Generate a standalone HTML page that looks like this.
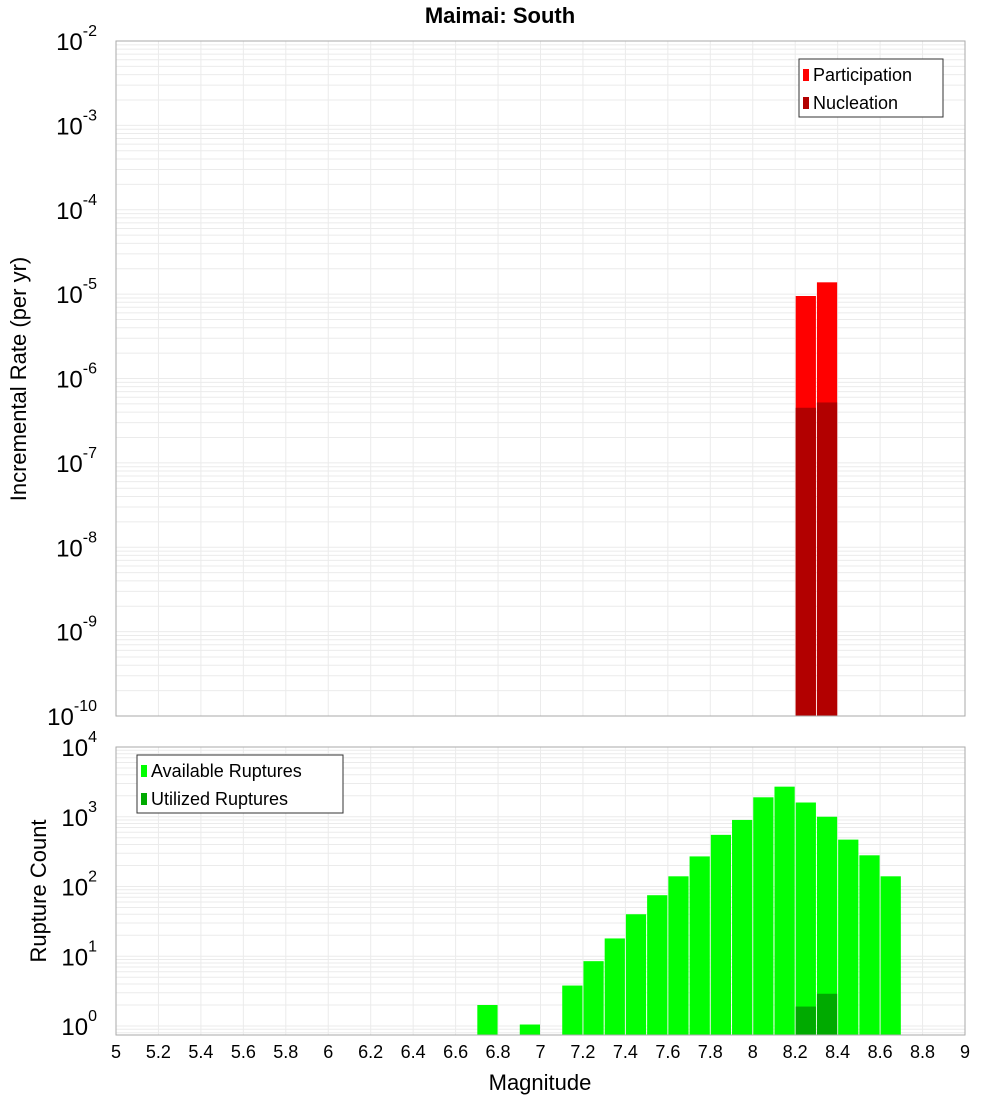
<!DOCTYPE html>
<html><head><meta charset="utf-8"><style>
body{margin:0;background:#fff}
svg{display:block;font-family:"Liberation Sans","DejaVu Sans",sans-serif}
</style></head><body>
<svg id="c" width="1000" height="1100" xmlns="http://www.w3.org/2000/svg"></svg>
<script>
const rateBins=[8.25,8.35];
const participation=[9.5e-6,1.38e-5];
const nucleation=[4.5e-7,5.2e-7];
const countBins=[6.75,6.95,7.15,7.25,7.35,7.45,7.55,7.65,7.75,7.85,7.95,8.05,8.15,8.25,8.35,8.45,8.55,8.65];
const available=[2,1.05,3.8,8.5,18,40,75,140,270,550,900,1900,2700,1600,1000,470,280,140];
const utilizedBins=[8.25,8.35];
const utilized=[1.9,2.9];
const xTicks=[5,5.2,5.4,5.6,5.8,6,6.2,6.4,6.6,6.8,7,7.2,7.4,7.6,7.8,8,8.2,8.4,8.6,8.8,9];
const topExps=[-10,-9,-8,-7,-6,-5,-4,-3,-2];
const botExps=[0,1,2,3,4];

const NS="http://www.w3.org/2000/svg",svg=document.getElementById('c');
function el(t,a,p){const e=document.createElementNS(NS,t);for(const k in a)e.setAttribute(k,a[k]);(p||svg).appendChild(e);return e;}
const L=116,R=965;
const X=v=>L+(v-5)/4*(R-L);
const T0=41,T1=716,YT=v=>T1-(Math.log10(v)+10)*(T1-T0)/8;
const B0=747,B1=1035,YB=v=>1026-Math.log10(v)*69.75;

function grid(y0,y1,Y,emin,emax){
  const g=el('g',{});
  
  for(let e=emin;e<emax;e++)for(let m=1;m<10;m++){const y=Y(m*Math.pow(10,e));if(y>=y0&&y<=y1)el('line',{x1:L,x2:R,y1:y,y2:y,stroke:'#ebebeb','stroke-width':1},g);}
  xTicks.forEach(t=>{const x=X(t);el('line',{x1:x,x2:x,y1:y0,y2:y1,stroke:'#ebebeb'},g);});
}
grid(T0,T1,YT,-10,-2);
grid(B0,B1,YB,-1,4);

function bars(bins,vals,Y,base,color,name){
  bins.forEach((b,i)=>{const x0=X(b-0.05)+0.5,x1=X(b+0.05)-0.5,y=Y(vals[i]);
    const r=el('rect',{x:x0,y:y,width:x1-x0,height:base-y,fill:color});
    });
}
bars(rateBins,participation,YT,T1,'#ff0000','participation-bar');
bars(rateBins,nucleation,YT,T1,'#b20000','nucleation-bar');
bars(countBins,available,YB,B1,'#00ff00','available-bar');
bars(utilizedBins,utilized,YB,B1,'#00aa00','utilized-bar');

el('rect',{x:L,y:T0,width:R-L,height:T1-T0,fill:'none',stroke:'#aaa'});
el('rect',{x:L,y:B0,width:R-L,height:B1-B0,fill:'none',stroke:'#aaa'});

function txt(x,y,s,a,name){const t=el('text',Object.assign({x:x,y:y},a));t.textContent=s;return t;}
function pow(x,y,e,name){const t=el('text',{x:x,y:y,'font-size':24,'text-anchor':'end'});
  t.appendChild(document.createTextNode('10'));const s=el('tspan',{dy:-14,'font-size':16},t);s.textContent=e;}
topExps.forEach(e=>pow(97,YT(Math.pow(10,e))+9,e,'y-tick-top'));
botExps.forEach(e=>pow(97,YB(Math.pow(10,e))+9,e,'y-tick-bottom'));
// fix superscript alignment: place tspan after "10" — end-anchor shifts entire text; acceptable
xTicks.forEach(t=>txt(X(t),1058,String(t),{'font-size':18,'text-anchor':'middle'},'x-tick'));

txt(500,23,'Maimai: South',{'font-size':22,'font-weight':'bold','text-anchor':'middle'},'chart-title');
txt(540,1090,'Magnitude',{'font-size':22,'text-anchor':'middle'},'x-axis-title');
txt(0,0,'Incremental Rate (per yr)',{'font-size':22,'text-anchor':'middle',transform:'translate(26,379) rotate(-90)'},'y-axis-title-top');
txt(0,0,'Rupture Count',{'font-size':22,'text-anchor':'middle',transform:'translate(46,891) rotate(-90)'},'y-axis-title-bottom');

function legend(x,y,w,items,name){
  const g=el('g',{});
  el('rect',{x:x,y:y,width:w,height:58,fill:'#fff',stroke:'#333'},g);
  items.forEach((it,i)=>{el('rect',{x:x+4,y:y+10+i*28,width:6,height:12,fill:it[1]},g);
    const t=el('text',{x:x+14,y:y+22+i*28,'font-size':18},g);t.textContent=it[0];});
}
legend(799,59,144,[['Participation','#ff0000'],['Nucleation','#b20000']],'legend-top');
legend(137,755,206,[['Available Ruptures','#00ff00'],['Utilized Ruptures','#00aa00']],'legend-bottom');
</script>
</body></html>
